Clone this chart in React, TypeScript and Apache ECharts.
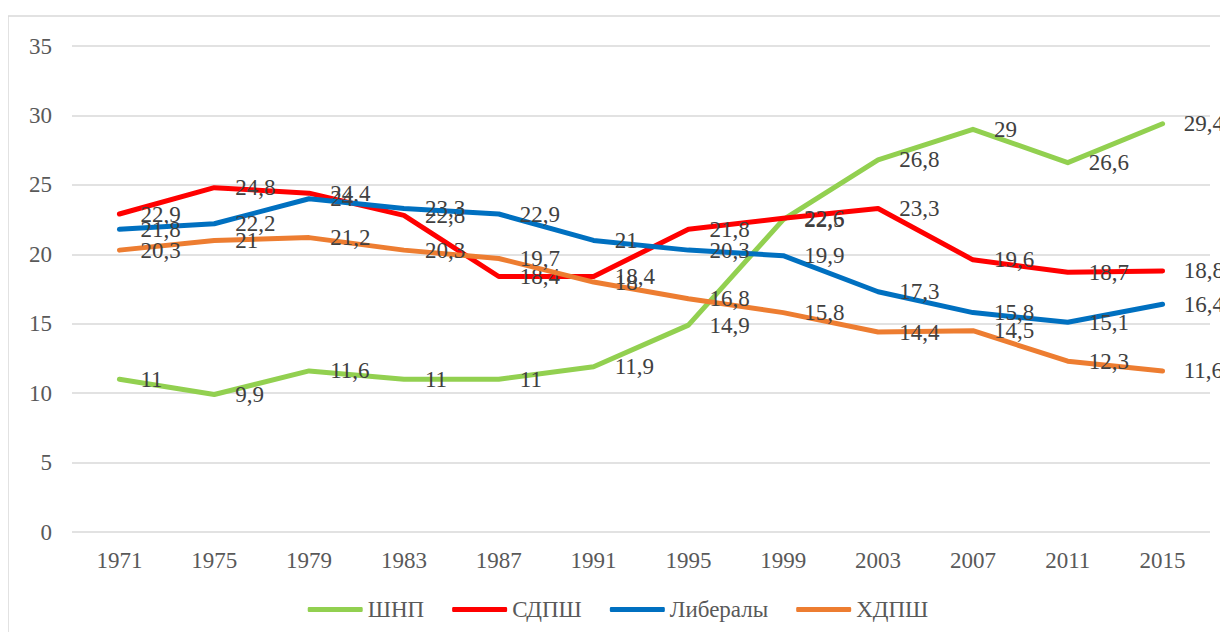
import React, { useEffect, useRef } from "react";
import * as echarts from "echarts";

const years = ["1971", "1975", "1979", "1983", "1987", "1991", "1995", "1999", "2003", "2007", "2011", "2015"];
const snp = [11, 9.9, 11.6, 11, 11, 11.9, 14.9, 22.5, 26.8, 29, 26.6, 29.4];
const sdp = [22.9, 24.8, 24.4, 22.8, 18.4, 18.4, 21.8, 22.6, 23.3, 19.6, 18.7, 18.8];
const lib = [21.8, 22.2, 24, 23.3, 22.9, 21, 20.3, 19.9, 17.3, 15.8, 15.1, 16.4];
const cdp = [20.3, 21, 21.2, 20.3, 19.7, 18, 16.8, 15.8, 14.4, 14.5, 12.3, 11.6];
const seriesNames = ["ШНП", "СДПШ", "Либералы", "ХДПШ"];
const colors = ["#92D050", "#FF0000", "#0070C0", "#ED7D31"];

const FONT = "'Liberation Serif', 'Times New Roman', serif";

export default function App() {
  const ref = useRef<HTMLDivElement>(null);
  useEffect(() => {
    if (!ref.current) return;
    const chart = echarts.init(ref.current, undefined, { renderer: "svg" });
    const datasets = [snp, sdp, lib, cdp];
    chart.setOption({
      animation: false,
      textStyle: { fontFamily: FONT },
      graphic: [
        {
          type: "rect",
          shape: { x: 0, y: 8, width: 1240, height: 640 },
          style: { fill: "none", stroke: "#d9d9d9", lineWidth: 1.5 },
          silent: true,
        },
      ],
      grid: { left: 64, right: 18, top: 38, bottom: 100, containLabel: false },
      legend: {
        bottom: 6,
        left: "center",
        icon: "roundRect",
        itemWidth: 55,
        itemHeight: 5,
        itemGap: 28,
        itemStyle: { opacity: 1 },
        textStyle: { fontFamily: FONT, fontSize: 23, color: "#595959" },
        data: seriesNames.map((n, i) => ({ name: n, itemStyle: { color: colors[i], opacity: 1 } })),
      },
      xAxis: {
        type: "category",
        data: years,
        boundaryGap: true,
        axisLine: { show: false },
        axisTick: { show: false },
        axisLabel: { fontFamily: FONT, fontSize: 23, color: "#595959", margin: 17 },
      },
      yAxis: {
        type: "value",
        min: 0,
        max: 35,
        interval: 5,
        axisLine: { show: false },
        axisTick: { show: false },
        axisLabel: { fontFamily: FONT, fontSize: 23, color: "#595959", margin: 20 },
        splitLine: { lineStyle: { color: "#d9d9d9", width: 1.5 } },
      },
      series: seriesNames.map((name, i) => ({
        name,
        type: "line",
        data: datasets[i],
        symbol: "circle",
        symbolSize: 0.1,
        showSymbol: true,
        showAllSymbol: true,
        color: colors[i],
        itemStyle: { color: colors[i], opacity: 0 },
        lineStyle: { width: 5, color: colors[i], cap: "round", join: "round" },
        label: {
          show: true,
          position: "right",
          distance: 21,
          offset: [0, 3],
          fontFamily: FONT,
          fontSize: 23,
          color: "#404040",
          opacity: 1,
          formatter: (p: any) => String(p.value).replace(".", ","),
        },
        labelLayout: { hideOverlap: false },
        z: 2 + i,
      })),
    });
    return () => chart.dispose();
  }, []);
  return <div ref={ref} style={{ width: 1220, height: 624 }} />;
}
